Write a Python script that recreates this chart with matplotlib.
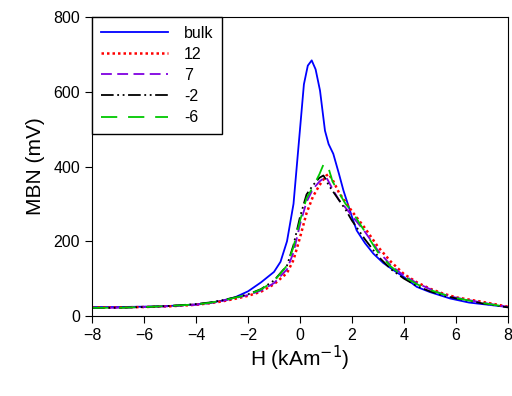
import matplotlib
matplotlib.use("Agg")
import matplotlib.pyplot as plt

plt.rcParams['font.family'] = ['Liberation Sans', 'DejaVu Sans']

# ---- data ----
h_bulk = [-8, -7, -6, -5, -4, -3.5, -3, -2.5, -2, -1.5, -1, -0.75, -0.5, -0.25,
          0, 0.15, 0.3, 0.45, 0.6, 0.77, 0.96, 1.1, 1.28, 1.5, 1.67, 2, 2.18,
          2.5, 2.82, 3.2, 3.59, 4, 4.49, 5, 5.77, 6.5, 7, 8]
mbn_bulk = [24, 24, 25, 27, 31, 35, 41, 50, 66, 90, 118, 145, 200, 300,
            500, 620, 670, 684, 660, 603, 496, 460, 434, 380, 336, 265, 229,
            195, 167, 142, 123, 104, 78, 64, 47, 36, 32, 24]

h_other = [-8, -7, -6, -5, -4, -3.5, -3, -2.5, -2, -1.5, -1, -0.5, -0.25, 0,
           0.25, 0.5, 0.75, 0.9, 1.0, 1.1, 1.25, 1.5, 1.75, 2, 2.5, 3, 3.5,
           4, 4.5, 5, 5.5, 6, 7, 8]
mbn_12 = [23, 23, 24, 26, 30, 34, 39, 46, 54, 65, 85, 115, 150, 210,
          275, 320, 350, 365, 375, 380, 365, 330, 305, 280, 235, 185, 145,
          112, 90, 73, 60, 50, 38, 25]
mbn_7 = [22, 22, 24, 26, 30, 34, 40, 48, 56, 68, 88, 125, 170, 245,
         305, 340, 360, 368, 372, 360, 340, 310, 290, 268, 225, 175, 135,
         108, 88, 72, 58, 49, 36, 24]
mbn_m2 = [22, 22, 24, 27, 32, 36, 42, 50, 58, 72, 95, 135, 190, 265,
          325, 350, 370, 376, 365, 350, 335, 310, 285, 255, 205, 160, 125,
          100, 80, 66, 55, 47, 34, 23]
mbn_m6 = [22, 22, 24, 27, 31, 35, 41, 49, 57, 71, 93, 135, 185, 255,
          315, 345, 380, 405, 409, 395, 360, 330, 300, 280, 225, 170, 132,
          105, 85, 70, 58, 48, 35, 24]

labels = ['bulk', '12', '7', '-2', '-6']

fig = plt.figure(figsize=(5.12, 3.96), dpi=100)
ax = fig.add_axes([0.1797, 0.202, 0.8125, 0.755])

ax.plot(h_bulk, mbn_bulk, color='#0000ff', lw=1.3, label=labels[0])
ax.plot(h_other, mbn_12, color='#ff0000', lw=1.8, ls=(0, (1, 1.2)), label=labels[1])
ax.plot(h_other, mbn_7, color='#7f00e0', lw=1.3, ls=(0, (6, 3)), label=labels[2])
ax.plot(h_other, mbn_m2, color='black', lw=1.3,
        ls=(0, (7, 2, 1, 2, 1, 2)), label=labels[3])
ax.plot(h_other, mbn_m6, color='#00c800', lw=1.3, ls=(0, (9, 6)), label=labels[4])

ax.set_xlim(-8, 8)
ax.set_ylim(0, 800)
ax.set_xticks(range(-8, 9, 2))
ax.set_yticks(range(0, 801, 200))
ax.tick_params(direction='out', labelsize=11.5, length=5)
ax.set_xlabel('H (kAm$^{-1}$)', fontsize=15, labelpad=1)
ax.set_ylabel('MBN (mV)', fontsize=15, labelpad=6)

leg = ax.legend(loc='upper left', bbox_to_anchor=(0, 1), fontsize=11.5,
                handlelength=4.2, handletextpad=1.0, borderaxespad=0,
                fancybox=False, edgecolor='black', framealpha=1,
                labelspacing=0.38, borderpad=0.55)
leg.get_frame().set_linewidth(1.0)

fig.savefig('out.png', dpi=100)
